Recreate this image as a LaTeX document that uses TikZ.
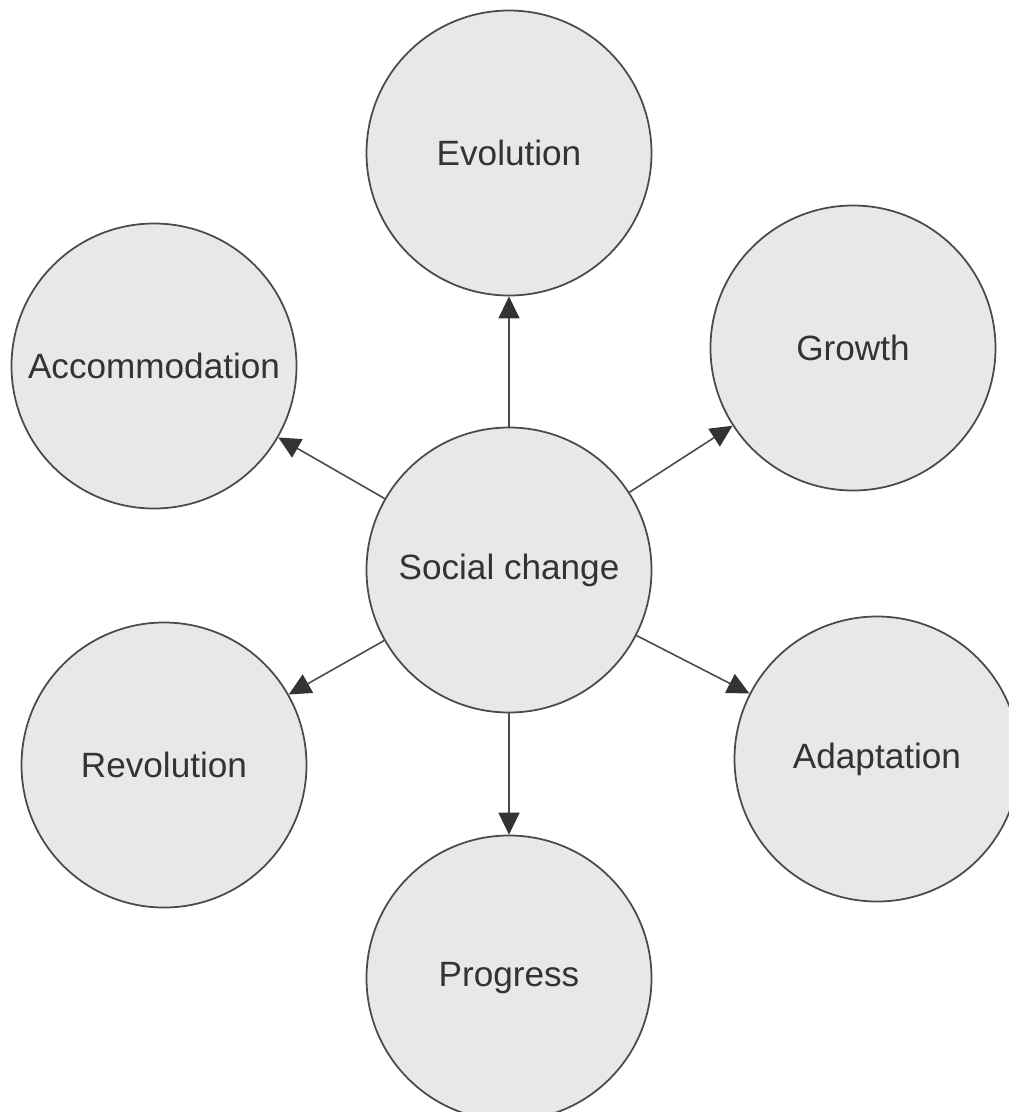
\documentclass[tikz,border=0pt]{standalone}
\usepackage{fontspec}
\setmainfont{Liberation Sans}
\usetikzlibrary{arrows.meta}
\definecolor{bubblefill}{HTML}{E8E8EA}
\definecolor{bubbleline}{HTML}{4A4A4A}
\definecolor{bubbletext}{HTML}{333333}
\begin{document}
\begin{tikzpicture}[
    bubble/.style={circle,draw=bubbleline,line width=1pt,fill=bubblefill,text=bubbletext,
                   minimum size=5.7cm,inner sep=0pt,font=\fontsize{20}{24}\selectfont},
    link/.style={draw=bubbleline,line width=0.9pt,
                 -{Triangle[length=0.44cm,width=0.42cm,color=bubbletext]}}
]
\useasboundingbox (0,0) rectangle (20.18,-22.24);
\node[bubble] (SC)  at (10.18,-11.40) {Social change};
\node[bubble] (Evo) at (10.18,-3.06)  {Evolution};
\node[bubble] (Acc) at (3.08,-7.32)   {Accommodation};
\node[bubble] (Gro) at (17.06,-6.96)  {Growth};
\node[bubble] (Rev) at (3.28,-15.30)  {Revolution};
\node[bubble] (Ada) at (17.54,-15.18) {Adaptation};
\node[bubble] (Pro) at (10.18,-19.56) {Progress};

\draw[link] (SC) -- (Evo);
\draw[link] (SC) -- (Acc);
\draw[link] (SC) -- (Gro);
\draw[link] (SC) -- (Rev);
\draw[link] (SC) -- (Ada);
\draw[link] (SC) -- (Pro);
\end{tikzpicture}
\end{document}
